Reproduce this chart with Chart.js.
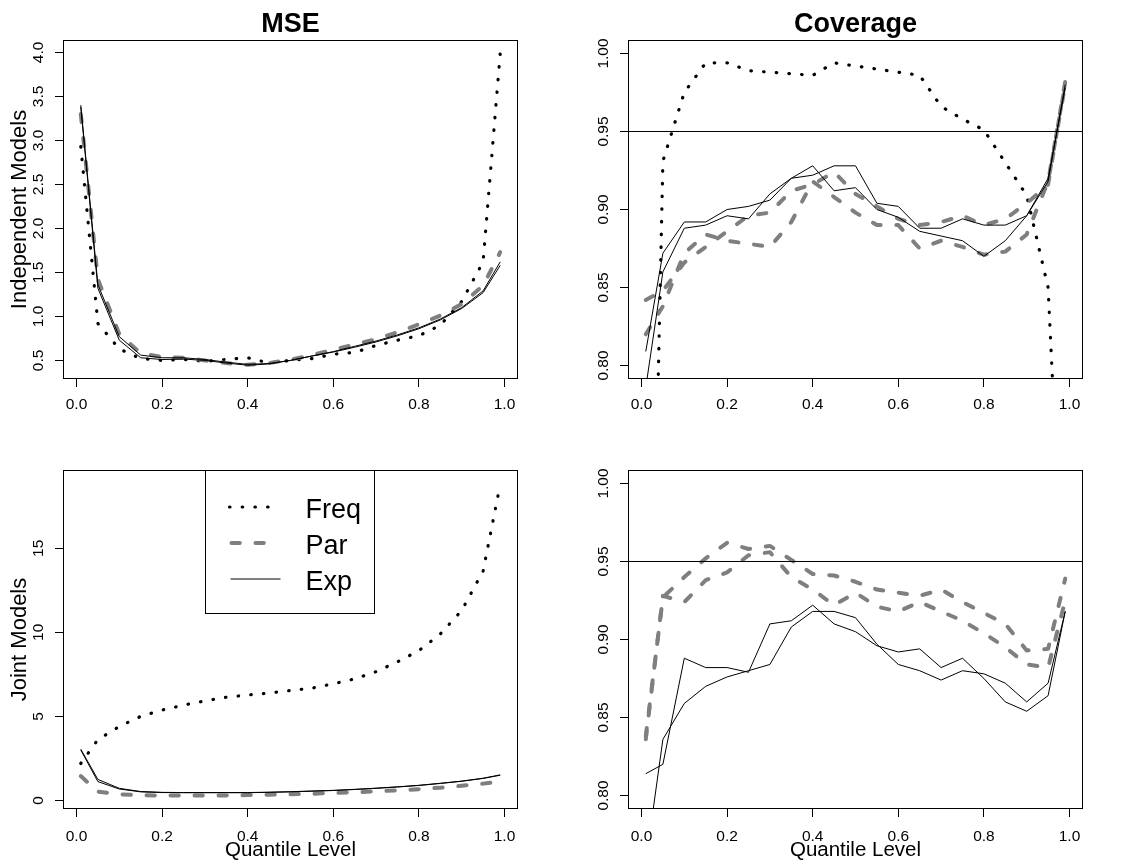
<!DOCTYPE html>
<html><head><meta charset="utf-8">
<script src="https://cdn.jsdelivr.net/npm/chart.js@4.4.1/dist/chart.umd.min.js"></script>
<style>
html,body{margin:0;padding:0;background:#fff;}
#wrap{position:relative;width:1130px;height:865px;background:#fff;overflow:hidden;}
canvas{position:absolute;}
</style></head><body>
<div id="wrap">
<canvas id="c1" width="565" height="430" style="left:0;top:0"></canvas>
<canvas id="c2" width="565" height="430" style="left:565px;top:0"></canvas>
<canvas id="c3" width="565" height="435" style="left:0;top:430px"></canvas>
<canvas id="c4" width="565" height="435" style="left:565px;top:430px"></canvas>
</div>
<script>
// ---------------- data ----------------
const quantiles = [0.01,0.05,0.10,0.15,0.20,0.25,0.30,0.35,0.40,0.45,0.50,0.55,0.60,0.65,0.70,0.75,0.80,0.85,0.90,0.95,0.99];
const xTicks = [0,0.2,0.4,0.6,0.8,1.0];
const xTickLabels = ['0.0','0.2','0.4','0.6','0.8','1.0'];
const indMseTicks = [0.5,1.0,1.5,2.0,2.5,3.0,3.5,4.0];
const indMseTickLabels = ['0.5','1.0','1.5','2.0','2.5','3.0','3.5','4.0'];
const covTicks = [0.80,0.85,0.90,0.95,1.00];
const covTickLabels = ['0.80','0.85','0.90','0.95','1.00'];
const jntMseTicks = [0,5,10,15];
const jntMseTickLabels = ['0','5','10','15'];
const nominal = 0.95;
const legendLabels = ['Freq','Par','Exp'];
const panelTitles = ['MSE','Coverage'];
const rowTitles = ['Independent Models','Joint Models'];
const xTitle = 'Quantile Level';

// Independent models, MSE
const indMseFreq = [2.93,0.92,0.63,0.52,0.50,0.51,0.49,0.51,0.53,0.47,0.50,0.52,0.57,0.59,0.67,0.73,0.78,0.90,1.17,1.62,3.99];
const indMsePar  = [3.30,1.42,0.80,0.58,0.54,0.53,0.50,0.47,0.45,0.47,0.51,0.56,0.62,0.68,0.74,0.82,0.91,1.01,1.14,1.35,1.73];
const indMseExpA = [3.40,1.36,0.77,0.56,0.53,0.53,0.51,0.48,0.455,0.465,0.50,0.55,0.60,0.66,0.72,0.79,0.87,0.97,1.10,1.29,1.62];
const indMseExpB = [3.38,1.32,0.73,0.53,0.51,0.515,0.50,0.47,0.445,0.46,0.50,0.55,0.595,0.65,0.71,0.78,0.86,0.96,1.09,1.27,1.58];
// Independent models, coverage
const indCovFreq = [0.42,0.931,0.975,0.994,0.994,0.989,0.988,0.987,0.986,0.994,0.992,0.990,0.988,0.986,0.966,0.958,0.951,0.930,0.909,0.850,0.62];
const indCovParA = [0.842,0.848,0.866,0.876,0.886,0.896,0.898,0.912,0.916,0.924,0.910,0.902,0.894,0.890,0.892,0.896,0.890,0.894,0.904,0.916,0.982];
const indCovParB = [0.820,0.838,0.872,0.884,0.880,0.878,0.876,0.892,0.918,0.908,0.898,0.890,0.890,0.875,0.880,0.876,0.871,0.873,0.884,0.918,0.980];
const indCovExpA = [0.809,0.872,0.892,0.892,0.900,0.902,0.906,0.920,0.922,0.928,0.928,0.904,0.902,0.888,0.888,0.894,0.890,0.890,0.896,0.918,0.980];
const indCovExpB = [0.786,0.860,0.888,0.890,0.896,0.894,0.910,0.920,0.928,0.912,0.914,0.900,0.895,0.886,0.883,0.880,0.870,0.880,0.896,0.920,0.978];
// Joint models, MSE
const jntMseFreq = [2.2,3.62,4.40,5.0,5.38,5.67,5.92,6.14,6.27,6.39,6.54,6.68,6.94,7.23,7.66,8.25,8.91,9.9,11.3,13.65,18.8];
const jntMsePar  = [1.45,0.52,0.36,0.31,0.29,0.29,0.29,0.30,0.32,0.34,0.37,0.40,0.44,0.49,0.54,0.60,0.67,0.76,0.87,1.00,1.13];
const jntMseExpA = [3.05,1.25,0.72,0.53,0.48,0.47,0.47,0.47,0.47,0.49,0.52,0.56,0.60,0.66,0.73,0.81,0.90,1.02,1.15,1.32,1.52];
const jntMseExpB = [3.00,1.12,0.68,0.51,0.47,0.46,0.46,0.46,0.46,0.48,0.51,0.55,0.59,0.65,0.72,0.80,0.89,1.01,1.14,1.31,1.50];
// Joint models, coverage
const jntCovParA = [0.838,0.927,0.940,0.952,0.962,0.958,0.960,0.951,0.942,0.941,0.937,0.932,0.930,0.928,0.932,0.924,0.917,0.910,0.893,0.894,0.939];
const jntCovParB = [0.836,0.928,0.924,0.938,0.943,0.954,0.956,0.940,0.932,0.922,0.930,0.921,0.918,0.924,0.918,0.912,0.904,0.895,0.884,0.882,0.925];
const jntCovExpA = [0.814,0.820,0.888,0.882,0.882,0.879,0.910,0.912,0.922,0.910,0.905,0.896,0.892,0.894,0.882,0.888,0.875,0.860,0.854,0.864,0.918];
const jntCovExpB = [0.757,0.836,0.859,0.870,0.876,0.880,0.884,0.908,0.918,0.918,0.914,0.897,0.884,0.880,0.874,0.880,0.878,0.872,0.860,0.872,0.918];

// ---------------- styling ----------------
const FONT = '"Liberation Sans", Arial, Helvetica, sans-serif';
Chart.defaults.font.family = FONT;
Chart.defaults.color = '#000';
const TICK_SIZE = 15.5;
const X_MIN = -0.0292, X_MAX = 1.0292;

const styleFreq = {borderColor:'#000', borderWidth:3.2, borderDash:[0.5,12.2], borderCapStyle:'round', borderJoinStyle:'round'};
const stylePar  = {borderColor:'#7f7f7f', borderWidth:4, borderDash:[8.3,15.7], borderCapStyle:'round', borderJoinStyle:'round'};
const styleExp  = {borderColor:'#000', borderWidth:1, borderJoinStyle:'round'};
const styleRef  = {borderColor:'#000', borderWidth:1};

function series(xs, ys){ return xs.map((x,i)=>({x:x, y:ys[i]})); }
function ds(label, ys, style){
  return Object.assign({label:label, data:series(quantiles, ys), pointRadius:0, pointHoverRadius:0, tension:0, fill:false}, style);
}
function refLine(){
  return Object.assign({label:'ref', data:[{x:X_MIN,y:nominal},{x:X_MAX,y:nominal}], pointRadius:0, tension:0, fill:false}, styleRef);
}

const mctx = document.createElement('canvas').getContext('2d');
function widest(labels){
  mctx.font = TICK_SIZE + 'px ' + FONT;
  return Math.max.apply(null, labels.map(l => mctx.measureText(l).width));
}

const boxPlugin = {
  id:'rbox',
  afterDatasetsDraw(chart){
    const {ctx, chartArea:{left,top,right,bottom}} = chart;
    ctx.save();
    ctx.strokeStyle = '#000'; ctx.lineWidth = 1; ctx.setLineDash([]);
    ctx.strokeRect(left-0.5, top-0.5, right-left+1, bottom-top+1);
    ctx.restore();
  }
};

const legendPlugin = {
  id:'rlegend',
  afterDatasetsDraw(chart){
    const {ctx, chartArea} = chart;
    const w = 169, h = 143;
    const x0 = Math.round((chartArea.left + chartArea.right)/2 - w/2 - 1) + 0.5;
    const y0 = chartArea.top - 0.5;
    ctx.save();
    ctx.strokeStyle = '#000'; ctx.lineWidth = 1; ctx.setLineDash([]);
    ctx.strokeRect(x0, y0, w, h);
    const sampleSpan = {Freq:[24,70], Par:[26,70], Exp:[25,75]};
    legendLabels.forEach((lab, i) => {
      const d = chart.data.datasets.find(s => s.label === lab);
      const ly = y0 + 36.5 + 36*i;
      const sp = sampleSpan[lab];
      ctx.beginPath();
      ctx.strokeStyle = d.borderColor;
      ctx.lineWidth = d.borderWidth;
      ctx.lineCap = d.borderCapStyle || 'butt';
      ctx.setLineDash(d.borderDash || []);
      ctx.moveTo(x0 + sp[0], ly);
      ctx.lineTo(x0 + sp[1], ly);
      ctx.stroke();
      ctx.setLineDash([]);
      ctx.fillStyle = '#000';
      ctx.font = '27px ' + FONT;
      ctx.textBaseline = 'alphabetic';
      ctx.textAlign = 'left';
      ctx.fillText(lab, x0 + 100, ly + 10.5);
    });
    ctx.restore();
  }
};

function makeChart(id, cfg){
  const tickGrid = {drawOnChartArea:false, drawTicks:true, tickLength:9, color:'#000', lineWidth:1};
  const yPad = 16 - widest(cfg.yLabels)/2;
  const plugins = [boxPlugin];
  if (cfg.legend) plugins.push(legendPlugin);
  return new Chart(document.getElementById(id), {
    type:'line',
    data:{datasets:cfg.datasets},
    options:{
      responsive:false, animation:false, devicePixelRatio:1, events:[],
      layout:{padding:{top: cfg.title ? 0 : 41, right:48, bottom:0, left:0}},
      plugins:{
        legend:{display:false}, tooltip:{enabled:false},
        title: cfg.title ? {display:true, text:cfg.title, color:'#000', font:{size:27, weight:'bold'}, fullSize:false, padding:{top:8, bottom:0.6}} : {display:false}
      },
      scales:{
        x:{
          type:'linear', position:'bottom', bounds:'data', min:X_MIN, max:X_MAX,
          afterBuildTicks: s => { s.ticks = xTicks.map(v => ({value:v})); },
          afterFit: s => { s.height = cfg.xAxisH; },
          ticks:{callback:(v,i) => xTickLabels[i], font:{size:TICK_SIZE}, color:'#000', padding:cfg.xPad, maxRotation:0, minRotation:0, autoSkip:false},
          grid:tickGrid, border:{display:false},
          title: cfg.xTitle ? {display:true, text:cfg.xTitle, color:'#000', font:{size:20.5}, padding:{top:0, bottom:2.4}} : {display:false}
        },
        y:{
          type:'linear', position:'left', bounds:'data', min:cfg.yMin, max:cfg.yMax,
          afterBuildTicks: s => { s.ticks = cfg.yTicks.map(v => ({value:v})); },
          afterFit: s => { s.width = 64; },
          ticks:{callback:(v,i) => cfg.yLabels[i], font:{size:TICK_SIZE}, color:'#000', minRotation:90, maxRotation:90, crossAlign:'center', padding:yPad, autoSkip:false},
          grid:tickGrid, border:{display:false},
          title: cfg.yTitle ? {display:true, text:cfg.yTitle, color:'#000', font:{size:22}, padding:{top:6.8, bottom:0}} : {display:false}
        }
      }
    },
    plugins:plugins
  });
}

makeChart('c1', {
  title:panelTitles[0], yTitle:rowTitles[0], xAxisH:52, xPad:8.2,
  yMin:0.30, yMax:4.13, yTicks:indMseTicks, yLabels:indMseTickLabels,
  datasets:[ds('Exp',indMseExpA,styleExp), ds('Exp2',indMseExpB,styleExp), ds('Par',indMsePar,stylePar), ds('Freq',indMseFreq,styleFreq)]
});
makeChart('c2', {
  title:panelTitles[1], xAxisH:52, xPad:8.2,
  yMin:0.792, yMax:1.008, yTicks:covTicks, yLabels:covTickLabels,
  datasets:[refLine(), ds('Exp',indCovExpA,styleExp), ds('Exp2',indCovExpB,styleExp), ds('Par',indCovParA,stylePar), ds('Par2',indCovParB,stylePar), ds('Freq',indCovFreq,styleFreq)]
});
makeChart('c3', {
  yTitle:rowTitles[1], xTitle:xTitle, xAxisH:57, xPad:10, legend:true,
  yMin:-0.45, yMax:19.6, yTicks:jntMseTicks, yLabels:jntMseTickLabels,
  datasets:[ds('Exp',jntMseExpA,styleExp), ds('Exp2',jntMseExpB,styleExp), ds('Par',jntMsePar,stylePar), ds('Freq',jntMseFreq,styleFreq)]
});
makeChart('c4', {
  xTitle:xTitle, xAxisH:57, xPad:10,
  yMin:0.792, yMax:1.008, yTicks:covTicks, yLabels:covTickLabels,
  datasets:[refLine(), ds('Exp',jntCovExpA,styleExp), ds('Exp2',jntCovExpB,styleExp), ds('Par',jntCovParA,stylePar), ds('Par2',jntCovParB,stylePar)]
});
</script>
</body></html>
